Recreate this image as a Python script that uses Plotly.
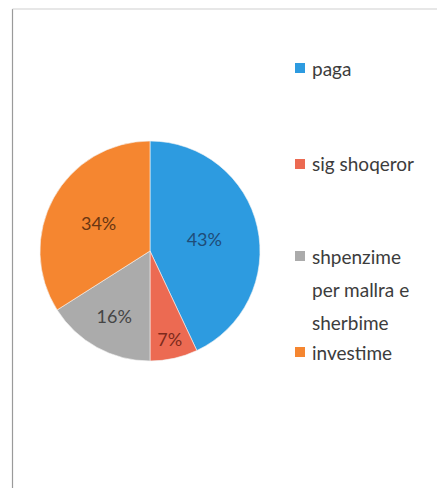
import plotly.graph_objects as go

labels = ["paga", "sig shoqeror", "shpenzime per mallra e sherbime", "investime"]
legend_lines = [["paga"], ["sig shoqeror"], ["shpenzime", "per mallra e", "sherbime"], ["investime"]]
values = [43, 7, 16, 34]

colors = ["#2d9be0", "#ec6a52", "#ababab", "#f58630"]
text_colors = ["#1f4c78", "#7e2a1c", "#454545", "#6a3612"]

# the page body adds an 8px offset; work in window pixels and subtract it
OFF = 8
W, H = 445 - OFF, 488 - OFF


def px(x):
    return (x - OFF) / W


def py(y):
    return 1 - (y - OFF) / H


cx, cy, r = 150, 251, 110

fig = go.Figure()
fig.add_trace(go.Pie(
    labels=labels,
    values=values,
    sort=False,
    direction="clockwise",
    rotation=0,
    marker=dict(colors=colors, line=dict(color="#f4f4f4", width=0.6)),
    textinfo="percent",
    texttemplate="%{percent:.0%}",
    textposition="inside",
    insidetextorientation="horizontal",
    textfont=dict(family="Lato", size=18, color=text_colors),
    showlegend=False,
    domain=dict(x=[px(cx - r), px(cx + r)], y=[py(cy + r), py(cy - r)]),
))

# legend built as annotations + swatches (spacing of the original)
legend_y_px = [68, 164, 256, 352]   # first-line centre of each entry, px from top
line_step = 33
for i, lines in enumerate(legend_lines):
    y0 = legend_y_px[i]
    fig.add_shape(type="rect", xref="paper", yref="paper",
                  x0=px(295), x1=px(305),
                  y0=py(y0 + 5), y1=py(y0 - 5),
                  fillcolor=colors[i], line=dict(width=0))
    for j, t in enumerate(lines):
        fig.add_annotation(x=px(310), y=py(y0 + j * line_step),
                           xref="paper", yref="paper", text=t,
                           showarrow=False, xanchor="left", yanchor="middle",
                           font=dict(family="Lato", size=19, color="#3c3c3c"))

# frame of the original chart area
fig.add_shape(type="line", xref="paper", yref="paper",
              x0=px(12.5), x1=px(12.5), y0=0, y1=py(9),
              line=dict(color="#9a9a9a", width=1.2))
fig.add_shape(type="line", xref="paper", yref="paper",
              x0=px(12.5), x1=px(443), y0=py(9), y1=py(9),
              line=dict(color="#cfcfcf", width=1))
fig.add_shape(type="line", xref="paper", yref="paper",
              x0=px(443), x1=px(443), y0=0, y1=py(9),
              line=dict(color="#e4e4e4", width=1))

fig.update_layout(
    width=W, height=H,
    margin=dict(l=0, r=0, t=0, b=0),
    paper_bgcolor="white",
    plot_bgcolor="white",
)

fig.write_html("out.html")
